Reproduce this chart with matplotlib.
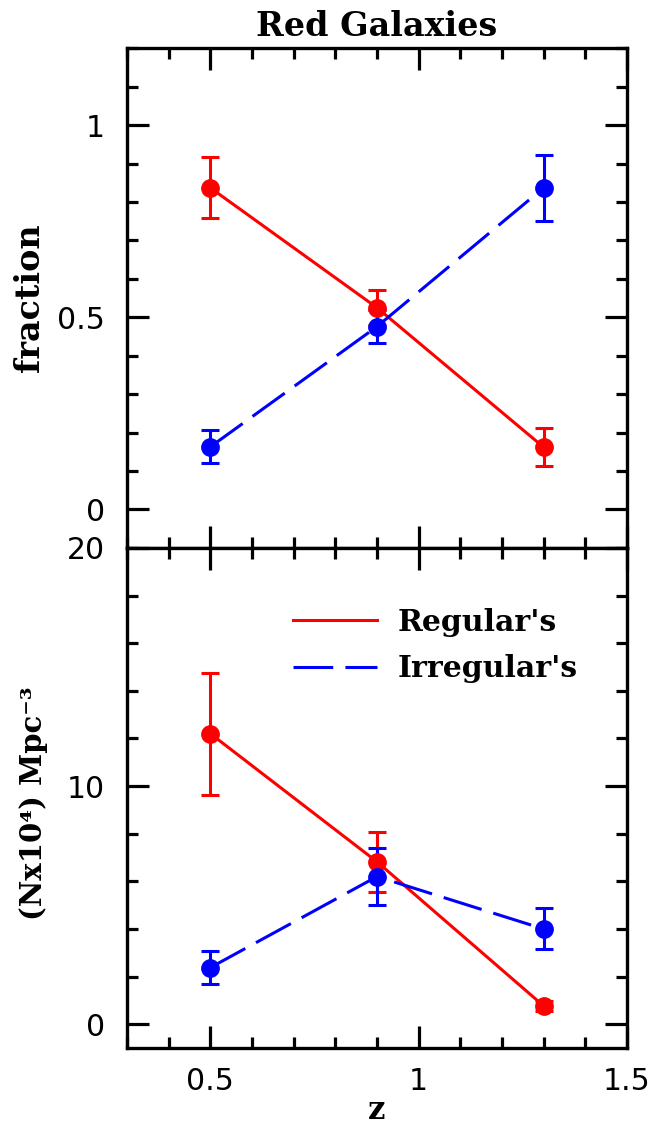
import numpy as np
import matplotlib
matplotlib.use("Agg")
import matplotlib.pyplot as plt
from matplotlib.ticker import MultipleLocator, FixedLocator
from matplotlib.lines import Line2D

# data
z = [0.5, 0.9, 1.3]

frac_reg = [0.837, 0.525, 0.162]
frac_reg_err = [0.079, 0.045, 0.050]
frac_irr = [0.163, 0.476, 0.837]
frac_irr_err = [0.043, 0.042, 0.085]

dens_reg = [12.2, 6.82, 0.77]
dens_reg_err = [2.56, 1.27, 0.2]
dens_irr = [2.38, 6.2, 4.0]
dens_irr_err = [0.7, 1.2, 0.86]

labels = ["Regular's", "Irregular's"]

plt.rcParams['font.family'] = ['DejaVu Serif', 'DejaVu Sans']

SERIF = dict(family=['DejaVu Serif', 'DejaVu Sans'], weight='bold')
RED = '#ff0000'
BLUE = '#0000ff'
LW = 2.2
DASH = (0, (13, 4))

fig = plt.figure(figsize=(6.62, 11.25), dpi=100)
ax1 = fig.add_axes([0.192, 0.513, 0.755, 0.444])
ax2 = fig.add_axes([0.192, 0.0684, 0.755, 0.4446])


def draw(ax, yr, yr_err, yi, yi_err):
    ax.errorbar(z, yr, yerr=yr_err, color=RED, lw=LW, ls='-', marker='o', ms=12.5,
                capsize=6.2, capthick=LW, elinewidth=LW)
    ax.errorbar(z, yi, yerr=yi_err, color=BLUE, lw=LW, ls=DASH, marker='o', ms=12.5,
                capsize=6.2, capthick=LW, elinewidth=LW)
    ax.set_xlim(0.3, 1.5)
    ax.xaxis.set_major_locator(FixedLocator([0.5, 1.0, 1.5]))
    ax.xaxis.set_minor_locator(MultipleLocator(0.1))
    for s in ax.spines.values():
        s.set_linewidth(2.4)
    ax.tick_params(which='both', direction='in', top=True, right=True, width=2.3)
    ax.tick_params(which='major', length=16)
    ax.tick_params(which='minor', length=8)
    ax.tick_params(axis='y', pad=16)
    ax.tick_params(axis='x', pad=14)


draw(ax1, frac_reg, frac_reg_err, frac_irr, frac_irr_err)
ax1.set_ylim(-0.1, 1.2)
ax1.yaxis.set_major_locator(FixedLocator([0, 0.5, 1]))
ax1.yaxis.set_minor_locator(MultipleLocator(0.1))
ax1.set_yticklabels(['0', '0.5', '1'], family='DejaVu Sans', fontsize=21.5)
ax1.tick_params(labelbottom=False)
ax1.set_ylabel('fraction', fontsize=24, **SERIF)
ax1.yaxis.set_label_coords(-0.162, 0.5)
ax1.set_title('Red Galaxies', fontsize=24, pad=9, **SERIF)

draw(ax2, dens_reg, dens_reg_err, dens_irr, dens_irr_err)
ax2.set_ylim(-1, 20)
ax2.yaxis.set_major_locator(FixedLocator([0, 10, 20]))
ax2.yaxis.set_minor_locator(MultipleLocator(2))
ax2.set_yticklabels(['0', '10', '20'], family='DejaVu Sans', fontsize=21.5)
ax2.set_xticklabels(['0.5', '1', '1.5'], family='DejaVu Sans', fontsize=21.5)
ax2.set_ylabel('(Nx10\u2074) Mpc\u207b\u00b3', fontsize=21, **SERIF)
ax2.yaxis.set_label_coords(-0.158, 0.49)
ax2.set_xlabel('z', fontsize=22, **SERIF)
ax2.xaxis.set_label_coords(0.5, -0.094)

leg_handles = [Line2D([], [], color=RED, lw=LW, ls='-'),
               Line2D([], [], color=BLUE, lw=LW, ls=DASH)]
ax2.legend(leg_handles, labels, loc='upper left', bbox_to_anchor=(0.332, 0.88),
           frameon=False, prop=dict(family='DejaVu Serif', weight='bold', size=21.5),
           handlelength=2.8, handletextpad=0.7, labelspacing=0.58,
           borderpad=0, borderaxespad=0)

fig.savefig('out.png', dpi=100)
